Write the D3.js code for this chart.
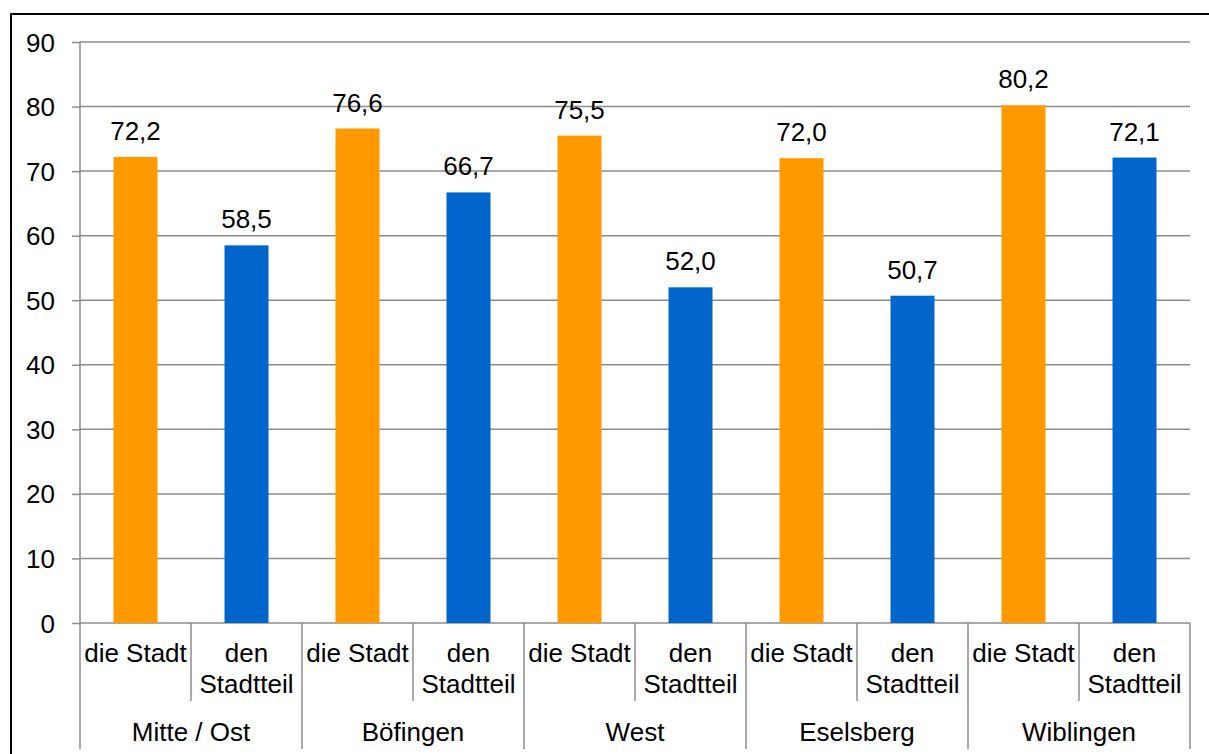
<!DOCTYPE html>
<html><head><meta charset="utf-8">
<script src="https://cdn.jsdelivr.net/npm/d3@7"></script>
<style>body{margin:0;background:#fff}svg{display:block}</style>
</head><body>
<script>
const groups = ["Mitte / Ost", "Böfingen", "West", "Eselsberg", "Wiblingen"];
const subcats = ["die Stadt", "den Stadtteil"];
const subLines = [["die Stadt"], ["den", "Stadtteil"]];
const valuesStadt = [72.2, 76.6, 75.5, 72.0, 80.2];
const valuesStadtteil = [58.5, 66.7, 52.0, 50.7, 72.1];
const yTicks = [0, 10, 20, 30, 40, 50, 60, 70, 80, 90];
const colors = ["#FF9900", "#0066CC"];

(function () {
const W = 1209, H = 754;
const svg = d3.select("body").append("svg").attr("width", W).attr("height", H);
const font = "Liberation Sans, Arial, sans-serif";
const fs = 26;
svg.append("rect").attr("x", 11).attr("y", 14).attr("width", W).attr("height", H)
  .attr("fill", "none").attr("stroke", "#000").attr("stroke-width", 2);

const pL = 80, pR = 1190, pT = 42, pB = 623;
const y = d3.scaleLinear().domain([0, 90]).range([pB, pT]);
const items = [];
groups.forEach((g, i) => {
  items.push({g, s: 0, v: valuesStadt[i], key: g + "|0"});
  items.push({g, s: 1, v: valuesStadtteil[i], key: g + "|1"});
});
const x = d3.scaleBand().domain(items.map(d => d.key)).range([pL, pR]).paddingInner(0).paddingOuter(0);
const xg = d3.scaleBand().domain(groups).range([pL, pR]);
const grid = "#8c8c8c";

const ya = svg.append("g").attr("transform", `translate(${pL},0)`)
  .call(d3.axisLeft(y).tickValues(yTicks).tickSize(8).tickPadding(17).tickFormat(d3.format("d")));
ya.select(".domain").remove();
ya.selectAll(".tick line").attr("stroke", grid).attr("stroke-width", 1.5);
ya.selectAll(".tick text").attr("font-family", font).attr("font-size", fs).attr("fill", "#000").attr("dy", "0.35em");
svg.append("g").selectAll("line").data(yTicks).join("line")
  .attr("x1", pL).attr("x2", pR).attr("y1", d => y(d)).attr("y2", d => y(d))
  .attr("stroke", grid).attr("stroke-width", 1.5);
svg.append("line").attr("x1", pL).attr("x2", pL).attr("y1", pT).attr("y2", pB)
  .attr("stroke", grid).attr("stroke-width", 1.5);

const bw = 44;
svg.append("g").selectAll("rect").data(items).join("rect")
  .attr("x", d => x(d.key) + x.bandwidth() / 2 - bw / 2)
  .attr("width", bw)
  .attr("y", d => y(d.v)).attr("height", d => y(0) - y(d.v))
  .attr("fill", d => colors[d.s]);
svg.append("g").selectAll("text").data(items).join("text")
  .attr("x", d => x(d.key) + x.bandwidth() / 2)
  .attr("y", d => y(d.v) - 17)
  .attr("text-anchor", "middle").attr("font-family", font).attr("font-size", fs)
  .text(d => d3.format(".1f")(d.v).replace(".", ","));

const sub = svg.append("g");
items.forEach((d, i) => {
  const x0 = x(d.key);
  if (i > 0 && d.s === 1) {
    sub.append("line").attr("x1", x0).attr("x2", x0).attr("y1", pB).attr("y2", 701)
      .attr("stroke", grid).attr("stroke-width", 1.5);
  }
  const t = sub.append("text").attr("text-anchor", "middle").attr("font-family", font).attr("font-size", fs);
  subLines[d.s].forEach((ln, k) => {
    t.append("tspan").attr("x", x0 + x.bandwidth() / 2).attr("y", 662 + k * 31).text(ln);
  });
});
groups.concat([null]).forEach((g, i) => {
  const x0 = g === null ? pR : xg(g);
  sub.append("line").attr("x1", x0).attr("x2", x0).attr("y1", pB).attr("y2", 749)
    .attr("stroke", grid).attr("stroke-width", 1.5);
  if (g !== null) sub.append("text").attr("x", x0 + xg.bandwidth() / 2).attr("y", 741)
    .attr("text-anchor", "middle").attr("font-family", font).attr("font-size", fs).text(g);
});
})();
</script>
</body></html>
